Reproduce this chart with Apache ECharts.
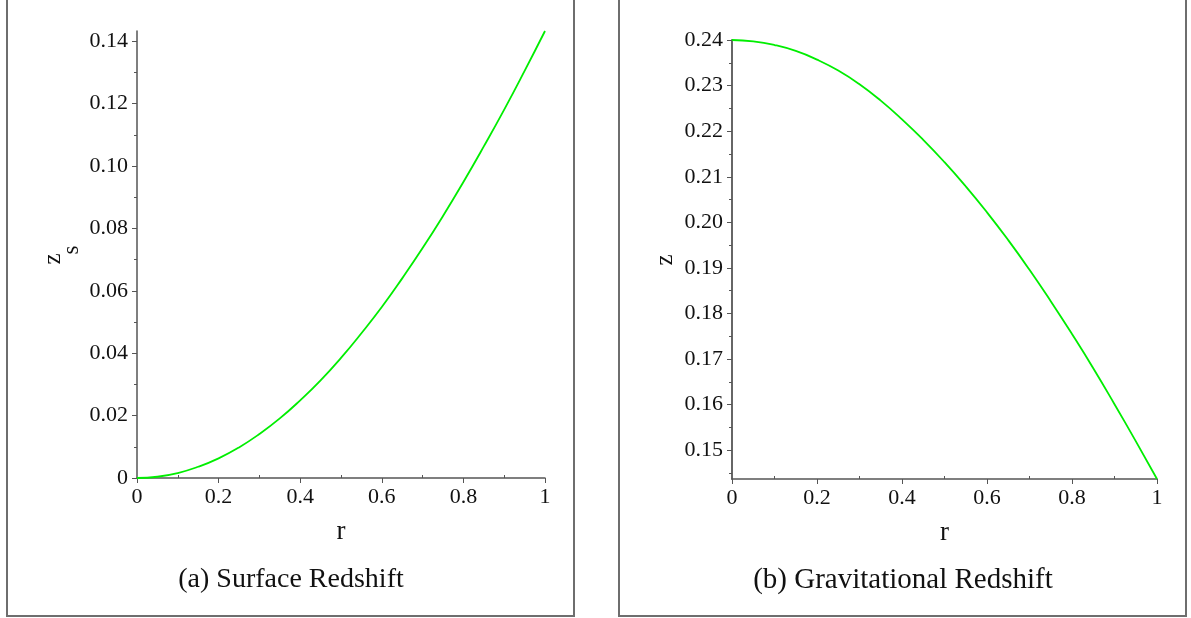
<!DOCTYPE html>
<html>
<head>
<meta charset="utf-8">
<script src="https://cdn.jsdelivr.net/npm/echarts@6/dist/echarts.min.js"></script>
<style>
  html, body { margin: 0; padding: 0; background: #fff; }
  #chart { width: 1191px; height: 618px; }
</style>
</head>
<body>
<div id="chart"></div>
<script>
// radius samples (both panels)
const rValues = [0, 0.05, 0.1, 0.15, 0.2, 0.25, 0.3, 0.35, 0.4, 0.45, 0.5,
  0.55, 0.6, 0.65, 0.7, 0.75, 0.8, 0.85, 0.9, 0.95, 1];
// (a) surface redshift z_s
const surfaceZ = [0, 0.0004, 0.0016, 0.0036, 0.0063, 0.0098, 0.0141, 0.0191,
  0.0249, 0.0313, 0.0385, 0.0464, 0.0548, 0.0640, 0.0737, 0.0840, 0.0949,
  0.1063, 0.1181, 0.1305, 0.1433];
// (b) gravitational redshift z
const gravZ = [0.2400, 0.2397, 0.2389, 0.2376, 0.2357, 0.2333, 0.2303, 0.2267,
  0.2226, 0.2181, 0.2132, 0.2079, 0.2022, 0.1961, 0.1896, 0.1827, 0.1755,
  0.1680, 0.1601, 0.1520, 0.1437];

const xTicks = [0, 0.2, 0.4, 0.6, 0.8, 1];
const xMinor = [0.1, 0.3, 0.5, 0.7, 0.9];
const leftYTicks = [0, 0.02, 0.04, 0.06, 0.08, 0.10, 0.12, 0.14];
const leftYMinor = [0.01, 0.03, 0.05, 0.07, 0.09, 0.11, 0.13];
const rightYTicks = [0.15, 0.16, 0.17, 0.18, 0.19, 0.20, 0.21, 0.22, 0.23, 0.24];
const rightYMinor = [0.145, 0.155, 0.165, 0.175, 0.185, 0.195, 0.205, 0.215, 0.225, 0.235];

const captions = ["(a) Surface Redshift", "(b) Gravitational Redshift"];

const serif = "Liberation Serif";
const axisColor = "#555";

const chart = echarts.init(document.getElementById("chart"));

const grids = [
  { left: 137, top: 31, width: 408, height: 447 },
  { left: 732, top: 40, width: 425, height: 439 },
];

function mainX(gridIndex) {
  return {
    type: "value",
    gridIndex: gridIndex,
    min: 0,
    max: 1,
    name: "r",
    nameLocation: "middle",
    nameGap: 40,
    nameTextStyle: { fontFamily: serif, fontSize: 27, color: "#111" },
    axisLine: { onZero: false, lineStyle: { color: axisColor, width: 1.5 } },
    axisTick: { customValues: xTicks, length: 5, lineStyle: { color: axisColor } },
    axisLabel: {
      customValues: xTicks,
      margin: 8,
      fontFamily: serif,
      fontSize: 22,
      color: "#111",
      formatter: (v) => String(v),
    },
    splitLine: { show: false },
  };
}

// extra axis on an overlaid grid, only used for minor ticks
function minorAxis(gridIndex, min, max, values, inside) {
  return {
    type: "value",
    gridIndex: gridIndex,
    min: min,
    max: max,
    axisLine: { show: false },
    axisTick: { customValues: values, length: 3, inside: inside, lineStyle: { color: axisColor } },
    axisLabel: { show: false },
    splitLine: { show: false },
  };
}

const option = {
  animation: false,
  backgroundColor: "#fff",
  grid: [grids[0], grids[1], grids[0], grids[1]],
  xAxis: [
    mainX(0),
    mainX(1),
    minorAxis(2, 0, 1, xMinor, true),
    minorAxis(3, 0, 1, xMinor, true),
  ],
  yAxis: [
    {
      type: "value",
      gridIndex: 0,
      min: 0,
      max: 0.1433,
      axisLine: { show: true, lineStyle: { color: axisColor, width: 1.5 } },
      axisTick: { show: true, customValues: leftYTicks, length: 5, lineStyle: { color: axisColor } },
      axisLabel: {
        customValues: leftYTicks,
        margin: 9,
        fontFamily: serif,
        fontSize: 22,
        color: "#111",
        formatter: (v) => (v === 0 ? "0" : v.toFixed(2)),
      },
      splitLine: { show: false },
    },
    {
      type: "value",
      gridIndex: 1,
      min: 0.1437,
      max: 0.24,
      axisLine: { show: true, lineStyle: { color: "#666", width: 2 } },
      axisTick: { show: true, customValues: rightYTicks, length: 5, lineStyle: { color: axisColor } },
      axisLabel: {
        customValues: rightYTicks,
        margin: 9,
        fontFamily: serif,
        fontSize: 22,
        color: "#111",
        formatter: (v) => v.toFixed(2),
      },
      splitLine: { show: false },
    },
    minorAxis(2, 0, 0.1433, leftYMinor, false),
    minorAxis(3, 0.1437, 0.24, rightYMinor, false),
  ],
  series: [
    {
      type: "line",
      xAxisIndex: 0,
      yAxisIndex: 0,
      data: rValues.map((r, i) => [r, surfaceZ[i]]),
      smooth: true,
      showSymbol: false,
      lineStyle: { color: "#00ee00", width: 1.8 },
    },
    {
      type: "line",
      xAxisIndex: 1,
      yAxisIndex: 1,
      data: rValues.map((r, i) => [r, gravZ[i]]),
      smooth: true,
      showSymbol: false,
      lineStyle: { color: "#00ee00", width: 1.8 },
    },
  ],
  graphic: [
    // panel frames
    {
      type: "rect",
      shape: { x: 7, y: -10, width: 567, height: 626 },
      style: { fill: "none", stroke: "#6e6e6e", lineWidth: 2 },
    },
    {
      type: "rect",
      shape: { x: 619, y: -10, width: 567, height: 626 },
      style: { fill: "none", stroke: "#6e6e6e", lineWidth: 2 },
    },
    // y axis names, rotated
    {
      type: "group",
      x: 53,
      y: 259,
      rotation: Math.PI / 2,
      children: [
        {
          type: "text",
          x: 0,
          y: 0,
          style: { text: "z", fontFamily: serif, fontSize: 25, fill: "#111", align: "center", verticalAlign: "middle" },
        },
        {
          type: "text",
          x: 9,
          y: 19,
          style: { text: "s", fontFamily: serif, fontSize: 23, fill: "#111", align: "center", verticalAlign: "middle" },
        },
      ],
    },
    {
      type: "text",
      x: 665,
      y: 260,
      rotation: Math.PI / 2,
      style: { text: "z", fontFamily: serif, fontSize: 25, fill: "#111", align: "center", verticalAlign: "middle" },
    },
    // captions
    {
      type: "text",
      x: 291,
      y: 580,
      style: { text: captions[0], fontFamily: serif, fontSize: 28, fill: "#111", align: "center", verticalAlign: "middle" },
    },
    {
      type: "text",
      x: 903,
      y: 580,
      style: { text: captions[1], fontFamily: serif, fontSize: 29, fill: "#111", align: "center", verticalAlign: "middle" },
    },
  ],
};

chart.setOption(option);
</script>
</body>
</html>
